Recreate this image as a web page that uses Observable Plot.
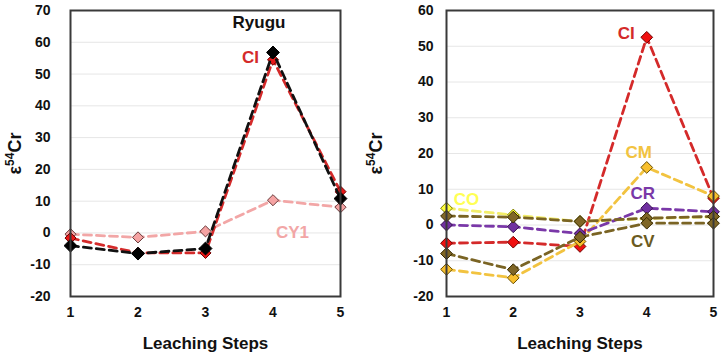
<!DOCTYPE html>
<html><head><meta charset="utf-8">
<script src="https://cdn.jsdelivr.net/npm/d3@7"></script>
<script src="https://cdn.jsdelivr.net/npm/@observablehq/plot@0.6"></script>
<style>
body{margin:0;background:#fff;}
#wrap{display:flex;width:722px;height:358px;overflow:hidden;}
#wrap svg{overflow:visible;}
</style></head><body><div id="wrap"></div>
<script>
// ---- data ----
const steps = [1, 2, 3, 4, 5];
const xLabel = "Leaching Steps";
const yLabel = "ε54Cr";

// left panel (Ryugu comparison)
const leftTicks = [-20, -10, 0, 10, 20, 30, 40, 50, 60, 70];
const ryugu = [-4.0, -6.5, -4.9, 56.8, 10.8];
const ciLeft = [-1.6, -6.3, -6.3, 54.5, 13.0];
const cy1 = [-0.4, -1.4, 0.5, 10.3, 8.1];

// right panel (chondrite groups)
const rightTicks = [-20, -10, 0, 10, 20, 30, 40, 50, 60];
const ci = [-5.1, -4.8, -6.0, 52.5, 7.5];
const co = [4.7, 2.8, 1.0, 1.8, 2.3];
const cm = [-12.4, -14.8, -4.6, 16.1, 8.1];
const cr = [0.0, -0.5, -2.4, 4.7, 3.7];
const cv1 = [2.5, 2.2, 1.0, 1.9, 2.4];
const cv2 = [-8.0, -12.5, -3.4, 0.5, 0.5];

// ---- helpers ----
const rows = (name, vals) => steps.map((s, i) => ({name, step: s, value: vals[i]}));
const FONT = "'Liberation Sans', Arial, sans-serif";

function seriesMarks(data, st) {
  return [
    Plot.line(data, {x: "step", y: "value", stroke: st.line, strokeWidth: 2.8, strokeDasharray: "8,5"}),
    Plot.dot(data, {x: "step", y: "value", symbol: "diamond2", r: st.r || 5.3, fill: st.fill, stroke: st.stroke, strokeWidth: 1})
  ];
}
function label(data, step, text, st) {
  return Plot.text(data, {filter: d => d.step === step, x: "step", y: "value", text: () => text,
    fill: st.color, fontSize: 17, fontWeight: "bold", fontFamily: FONT,
    dx: st.dx, dy: st.dy, textAnchor: st.anchor || "middle"});
}

function panel({marginLeft, marginRight, domain, ticks, tickPadding, lines, labels}) {
  const svg = Plot.plot({
    width: 361, height: 358,
    marginLeft, marginRight, marginTop: 10, marginBottom: 62,
    style: {fontFamily: FONT, fontWeight: "bold", fontSize: "14px", color: "#111", background: "transparent"},
    x: {domain: [1, 5]},
    y: {domain},
    marks: [
      Plot.gridY(ticks, {stroke: "#e6e6e6", strokeOpacity: 1, strokeWidth: 1}),
      Plot.axisX(steps, {tickSize: 0, tickPadding: 11, tickFormat: d => String(d),
        label: xLabel, labelAnchor: "center", labelArrow: "none", labelOffset: 52}),
      Plot.axisY(ticks, {tickSize: 0, tickPadding, tickFormat: d => String(d),
        label: yLabel, labelAnchor: "center", labelArrow: "none", labelOffset: marginLeft - 8}),
      ...lines,
      Plot.frame({stroke: "#3a3a3a", strokeWidth: 2}),
      ...labels
    ]
  });
  const s = d3.select(svg);
  s.selectAll('g[aria-label="x-axis label"] text').style("font-size", "17px");
  s.selectAll('g[aria-label="y-axis label"] text').each(function() {
    const t = d3.select(this);
    const txt = t.text(); // "ε54Cr"
    t.text(null).style("font-size", "18px");
    t.append("tspan").text(txt.slice(0, 1));
    t.append("tspan").text(txt.slice(1, 3)).attr("baseline-shift", "super").style("font-size", "12px");
    t.append("tspan").text(txt.slice(3));
  });
  return svg;
}

// left panel
const dRy = rows("Ryugu", ryugu), dCiL = rows("CI", ciLeft), dCy1 = rows("CY1", cy1);
const left = panel({
  marginLeft: 70, marginRight: 21, domain: [-20, 70], ticks: leftTicks, tickPadding: 20,
  lines: [
    ...seriesMarks(dCy1, {line: "#f2a6a6", fill: "#f5a3a3", stroke: "#6a3a3a", r: 5}),
    ...seriesMarks(dCiL, {line: "#d42a2a", fill: "#e81818", stroke: "#700000", r: 5}),
    ...seriesMarks(dRy, {line: "#111111", fill: "#000000", stroke: "#000000", r: 5.8})
  ],
  labels: [
    label(dRy, 4, "Ryugu", {color: "#111", dx: -14, dy: -30}),
    label(dCiL, 4, "CI", {color: "#d42a2a", dx: -14, dy: -2, anchor: "end"}),
    label(dCy1, 4, "CY1", {color: "#f2a6a6", dx: 3, dy: 32, anchor: "start"})
  ]
});

// right panel
const dCi = rows("CI", ci), dCo = rows("CO", co), dCm = rows("CM", cm), dCr = rows("CR", cr),
      dCv1 = rows("CV", cv1), dCv2 = rows("CV", cv2);
const right = panel({
  marginLeft: 85, marginRight: 9, domain: [-20, 60], ticks: rightTicks, tickPadding: 13,
  lines: [
    ...seriesMarks(dCi, {line: "#d42a2a", fill: "#f01010", stroke: "#700000"}),
    ...seriesMarks(dCo, {line: "#f3ee6a", fill: "#ffff3c", stroke: "#7a7a00"}),
    ...seriesMarks(dCm, {line: "#f2c340", fill: "#f8bf2c", stroke: "#6a5000"}),
    ...seriesMarks(dCr, {line: "#7a38a8", fill: "#7030a0", stroke: "#36104e"}),
    ...seriesMarks(dCv1, {line: "#7a6424", fill: "#7f6626", stroke: "#352800"}),
    ...seriesMarks(dCv2, {line: "#7a6424", fill: "#7f6626", stroke: "#352800"})
  ],
  labels: [
    label(dCi, 4, "CI", {color: "#d42a2a", dx: -12, dy: -4, anchor: "end"}),
    label(dCm, 4, "CM", {color: "#f2c340", dx: -8, dy: -15}),
    label(dCr, 4, "CR", {color: "#7a38a8", dx: -4, dy: -15}),
    label(dCo, 1, "CO", {color: "#ffff55", dx: 20, dy: -9}),
    label(dCv2, 4, "CV", {color: "#6b5a20", dx: -4, dy: 18})
  ]
});

document.getElementById("wrap").append(left, right);
</script>
</body></html>
